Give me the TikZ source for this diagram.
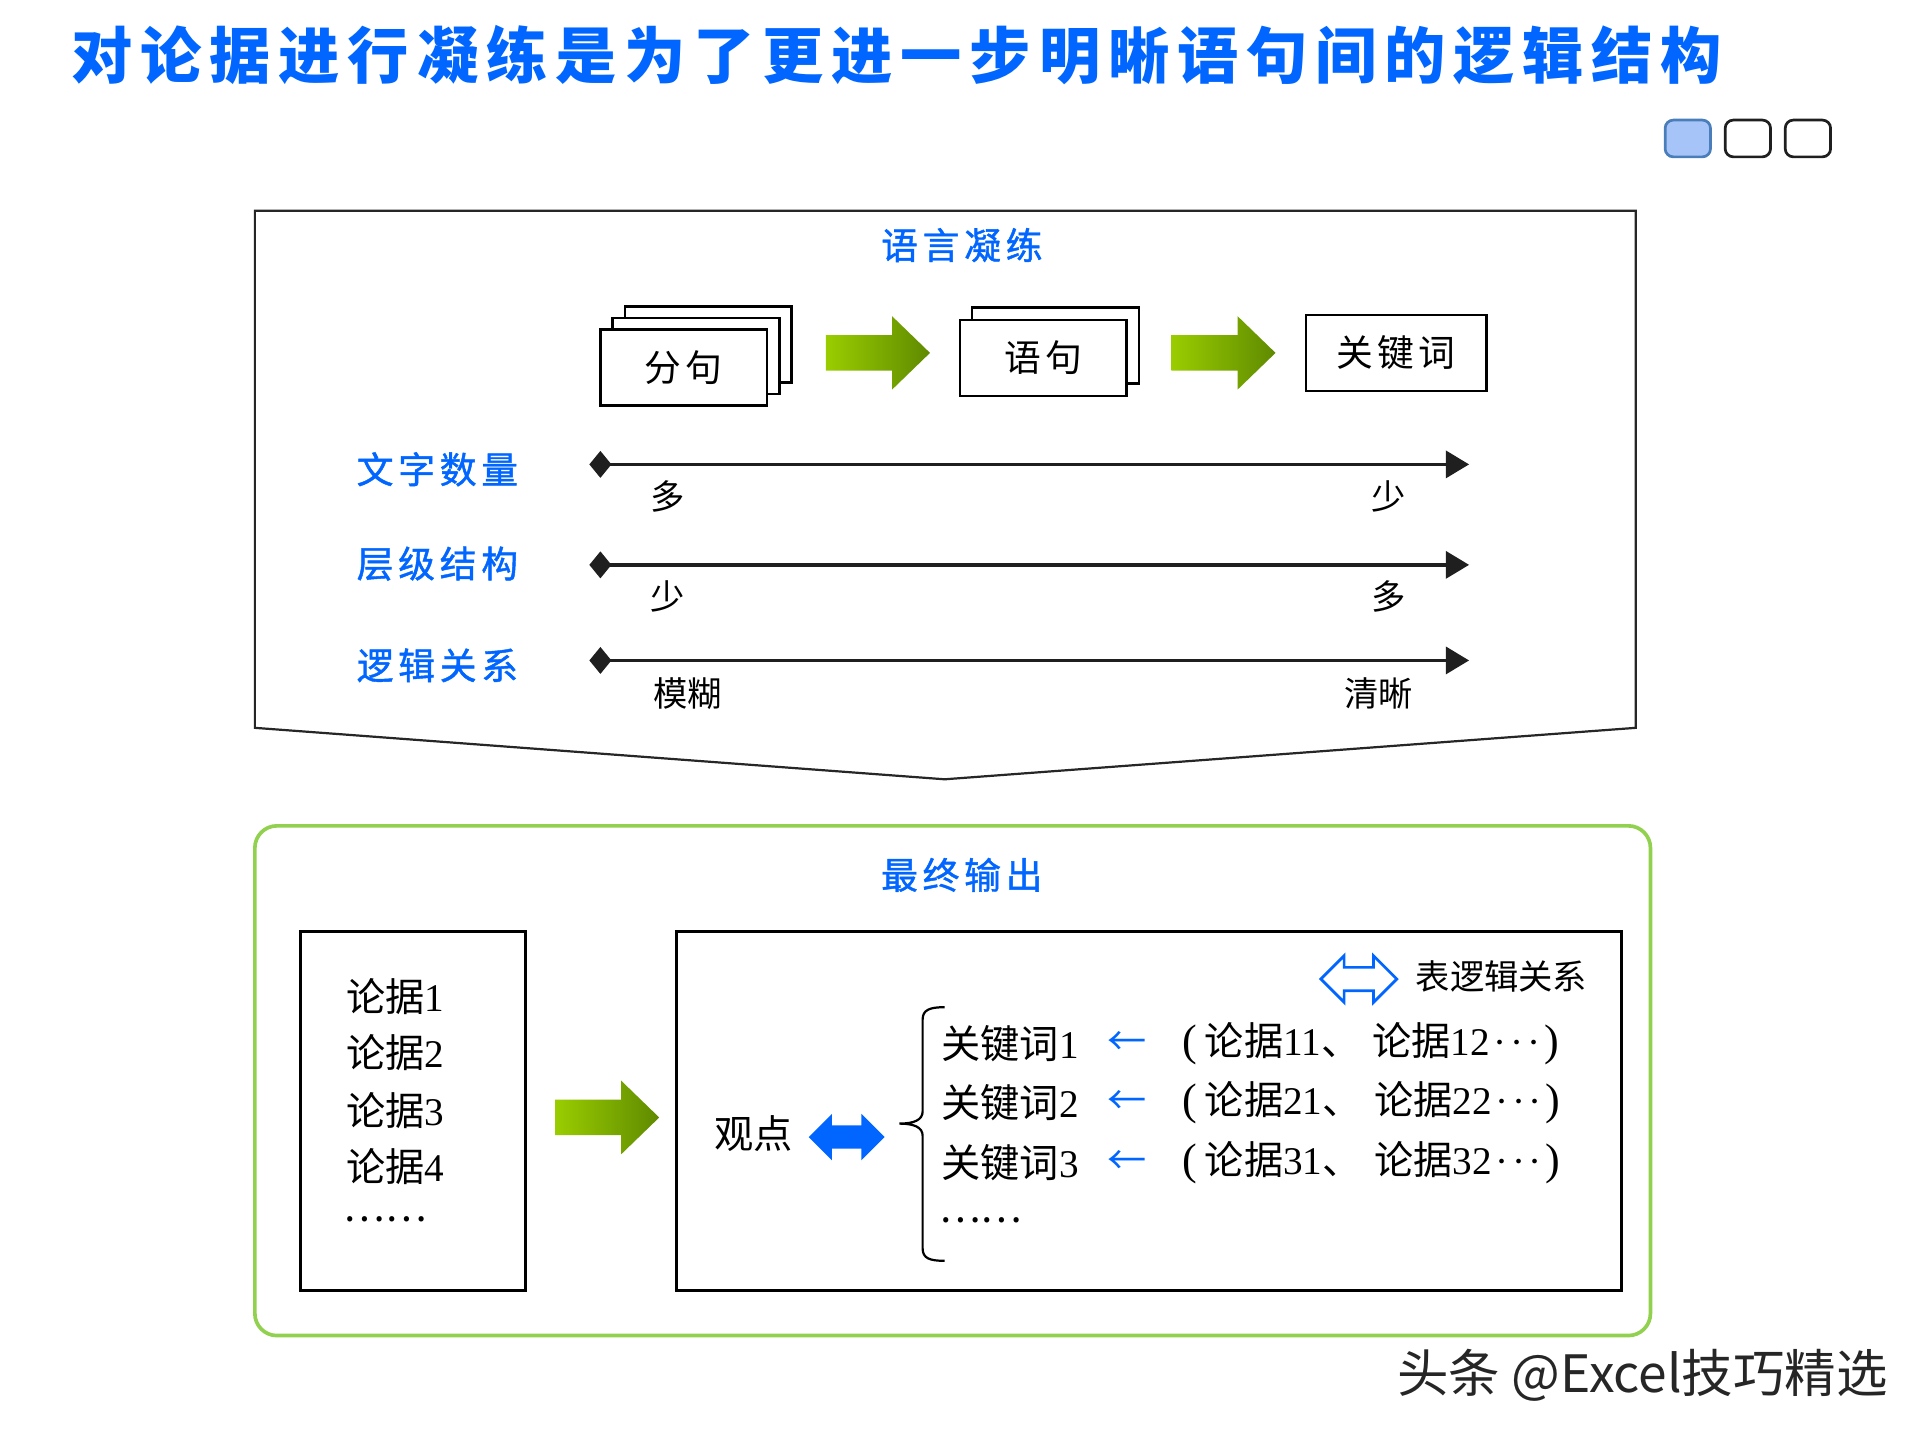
\documentclass[tikz,border=0pt]{standalone}
\usepackage{fontspec}
\setmainfont{Liberation Serif}
\newfontfamily\zhf{Noto Sans CJK SC}
\newfontfamily\zhT{Noto Sans CJK SC}[LetterSpace=12.8]
\newfontfamily\zhA{Noto Sans CJK SC}[LetterSpace=13,FakeBold=1.2]
\newfontfamily\zhB{Noto Sans CJK SC}[LetterSpace=12]
\usetikzlibrary{arrows.meta}
\newcommand\zh[1]{{\zhf #1}}
\newcommand\middots{\kern1.5pt·\kern1.5pt·\kern1.5pt·\kern1.5pt}
\newcommand\lp{{\fontsize{18pt}{18pt}\selectfont(}}
\newcommand\rp{{\fontsize{18pt}{18pt}\selectfont)}}
\definecolor{tblue}{HTML}{0066FF}
\definecolor{lgreen}{HTML}{9ACD00}
\definecolor{dgreen}{HTML}{5F8A00}
\definecolor{boxgreen}{HTML}{92D050}
\definecolor{sqblue}{HTML}{A6C4F8}
\definecolor{sqedge}{HTML}{4A7EBB}
\newcommand\GArrow[2]{\shade[left color=lgreen,right color=dgreen]
  (#1,#2) ++(0,-14.5) -- ++(54,0) -- ++(0,-15.5) -- ++(31,30) -- ++(-31,30)
  -- ++(0,-15.5) -- ++(-54,0) -- cycle;}
\newcommand\DArrow[3]{\path[#3] (#1,#2) -- ++(19,-19) -- ++(0,9.5) -- ++(24,0)
  -- ++(0,-9.5) -- ++(19,19) -- ++(-19,19) -- ++(0,-9.5) -- ++(-24,0)
  -- ++(0,9.5) -- cycle;}
\begin{document}
\begin{tikzpicture}[x=0.5pt,y=-0.5pt,
  txt/.style={inner sep=0pt},
  panel/.style={draw=black!85,line width=0.9pt},
  stackbox/.style={draw=black,line width=1pt,fill=white,minimum width=68pt,minimum height=31pt,inner sep=0pt},
  header/.style={inner sep=0pt,text=tblue,font=\zhA\fontsize{15pt}{18pt}\selectfont},
  boxlab/.style={inner sep=0pt,font=\zhB\fontsize{15pt}{18pt}\selectfont},
  endlab/.style={inner sep=0pt,font=\zhf\fontsize{14pt}{17pt}\selectfont},
  bodytxt/.style={inner sep=0pt,anchor=west,font=\fontsize{16pt}{19pt}\selectfont},
  axisline/.style={line width=1.5pt,draw=black!88,
     {Diamond[length=9pt,width=11pt]}-{Triangle[length=9.5pt,width=11pt]}},
  sq/.style={draw=black!88,line width=1.1pt,fill=white,rounded corners=3.3pt,minimum width=18.5pt,minimum height=15pt,inner sep=0pt},
  bigbox/.style={draw=black,line width=1.2pt}
]
\useasboundingbox (0,0) rectangle (1567,1175);
% title
\node[txt,anchor=west,text=tblue,font=\zhT\bfseries\fontsize{25pt}{30pt}\selectfont] (title) at (58,45)
  {对论据进行凝练是为了更进一步明晰语句间的逻辑结构};
% page squares
\node[sq,fill=sqblue,draw=sqedge] (sq1) at (1377.5,113) {};
\node[sq] (sq2) at (1426.5,113) {};
\node[sq] (sq3) at (1475.5,113) {};
% top panel
\draw[panel] (208,172) -- (1335,172) -- (1335,594) -- (771,636) -- (208,594) -- cycle;
\node[header] (h1) at (785,200) {语言凝练};
% stacks
\node[stackbox] (fj3) at (578,281) {};
\node[stackbox] (fj2) at (568,290.5) {};
\node[stackbox,boxlab] (fj1) at (558,300) {分句};
\node[stackbox] (yj2) at (861.5,282) {};
\node[stackbox,boxlab] (yj1) at (851.5,292) {语句};
\node[stackbox,boxlab,minimum width=73.5pt] (gjc) at (1139.5,288) {关键词};
\GArrow{674}{288}
\GArrow{956}{288}
% axis rows
\node[header] (l1) at (357,383) {文字数量};
\node[header] (l2) at (357,460) {层级结构};
\node[header] (l3) at (357,543) {逻辑关系};
\coordinate (r1s) at (481,379); \coordinate (r1e) at (1199,379);
\coordinate (r2s) at (481,461); \coordinate (r2e) at (1199,461);
\coordinate (r3s) at (481,539); \coordinate (r3e) at (1199,539);
\draw[axisline] (r1s) -- (r1e);
\draw[axisline] (r2s) -- (r2e);
\draw[axisline] (r3s) -- (r3e);
\node[endlab] (a1) at (545,405) {多};
\node[endlab] (b1) at (1133,405) {少};
\node[endlab] (a2) at (545,487) {少};
\node[endlab] (b2) at (1133,487) {多};
\node[endlab] (a3) at (561,566) {模糊};
\node[endlab] (b3) at (1125,566) {清晰};
% bottom panel
\draw[draw=boxgreen,line width=1.5pt,rounded corners=9pt] (208,674) rectangle (1347,1090);
\node[header] (h2) at (785,714) {最终输出};
\draw[bigbox] (245,760) rectangle (429,1053);
\draw[bigbox] (552,760) rectangle (1323,1053);
\node[bodytxt] (lj1) at (282,813) {\zh{论据}1};
\node[bodytxt] (lj2) at (282,859) {\zh{论据}2};
\node[bodytxt] (lj3) at (282,906) {\zh{论据}3};
\node[bodytxt] (lj4) at (282,952) {\zh{论据}4};
\node[bodytxt] (lj5) at (280,995) {\zh{……}};
\GArrow{453}{912}
\node[bodytxt,anchor=center] (gd) at (615,925) {\zh{观点}};
\DArrow{660}{928}{fill=tblue}
\DArrow{1078}{799}{draw=tblue,line width=1.1pt,fill=white}
\node[bodytxt,font=\zhf\fontsize{14pt}{17pt}\selectfont] (lg) at (1155,797) {表逻辑关系};
\draw[line width=0.9pt] (771,822) .. controls (759,822) and (753,824) .. (753,832) -- (753,907)
  .. controls (753,914) and (746,917) .. (734,917) .. controls (746,917) and (753,920) .. (753,927)
  -- (753,1019) .. controls (753,1027) and (759,1029) .. (771,1029);
\node[bodytxt] (k1) at (768,852) {\zh{关键词}1};
\node[bodytxt] (k2) at (768,900) {\zh{关键词}2};
\node[bodytxt] (k3) at (768,949) {\zh{关键词}3};
\node[bodytxt] (k4) at (766,996) {\zh{……}};
\node[txt,text=tblue,font=\zhf\fontsize{16pt}{19pt}\selectfont] (ar1) at (920,852) {←};
\node[txt,text=tblue,font=\zhf\fontsize{16pt}{19pt}\selectfont] (ar2) at (920,900) {←};
\node[txt,text=tblue,font=\zhf\fontsize{16pt}{19pt}\selectfont] (ar3) at (920,949) {←};
\node[bodytxt] (p1) at (965,852) {\lp\kern3pt\zh{论据}11\zh{、}\kern5pt\zh{论据}12\middots\rp};
\node[bodytxt] (p2) at (965,900) {\lp\kern3pt\zh{论据}21\zh{、}\kern5pt\zh{论据}22\middots\rp};
\node[bodytxt] (p3) at (965,949) {\lp\kern3pt\zh{论据}31\zh{、}\kern5pt\zh{论据}32\middots\rp};
% watermark
\node[txt,anchor=west,text=black!85,font=\zhf\fontsize{21pt}{25pt}\selectfont] (wm) at (1140,1122) {头条 @Excel技巧精选};
\end{tikzpicture}
\end{document}
